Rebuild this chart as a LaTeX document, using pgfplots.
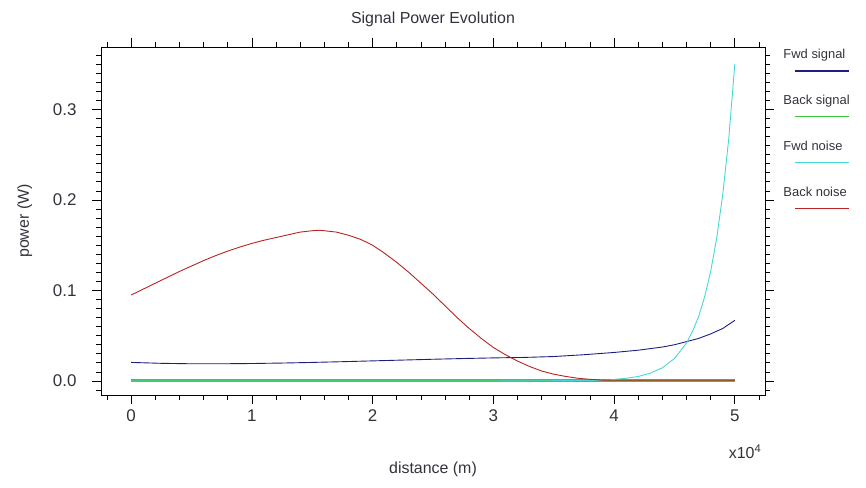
\documentclass[border=0pt]{standalone}
\usepackage{fontspec}
\setmainfont{Liberation Sans}
\usepackage{pgfplots}
\pgfplotsset{compat=1.18}
\definecolor{fwdsig}{RGB}{30,30,130}
\definecolor{backsig}{RGB}{60,200,60}
\definecolor{fwdnoise}{RGB}{70,215,215}
\definecolor{backnoise}{RGB}{185,35,35}
\definecolor{txt}{RGB}{50,50,60}
\begin{document}
\begin{tikzpicture}
\useasboundingbox (-101bp,-93bp) rectangle (765bp,395bp);
\begin{axis}[
  name=ax,
  scale only axis,
  width=664bp, height=348bp,
  xmin=-2500, xmax=52500, ymin=-0.0155, ymax=0.369,
  scaled x ticks=false, scaled y ticks=false,
  axis line style={black, line width=0.8pt},
  tick align=outside,
  major tick length=9bp, minor tick length=5bp,
  every tick/.style={black, line width=0.8pt},
  xtick={0,10000,20000,30000,40000,50000},
  xticklabels={0,1,2,3,4,5},
  minor xtick={-2000,2000,4000,6000,8000,12000,14000,16000,18000,22000,24000,26000,28000,32000,34000,36000,38000,42000,44000,46000,48000,52000},
  ytick={0,0.1,0.2,0.3},
  yticklabels={0.0,0.1,0.2,0.3},
  minor ytick={-0.01,0.01,0.02,0.03,0.04,0.05,0.06,0.07,0.08,0.09,0.11,0.12,0.13,0.14,0.15,0.16,0.17,0.18,0.19,0.21,0.22,0.23,0.24,0.25,0.26,0.27,0.28,0.29,0.31,0.32,0.33,0.34,0.35,0.36},
  tick label style={font=\fontsize{17}{19}\selectfont, text=txt},
  xticklabel style={yshift=-2bp},
  yticklabel style={xshift=-12bp},
  label style={font=\fontsize{16}{18}\selectfont, text=txt},
  xlabel={distance (m)},
  ylabel={power (W)},
  xlabel style={at={(axis description cs:0.5,-0.215)}, anchor=center},
  ylabel style={at={(axis description cs:-0.115,0.5)}, anchor=center},
  title={Signal Power Evolution},
  title style={at={(axis description cs:0.5,1.063)}, anchor=center, yshift=0pt, font=\fontsize{16}{18}\selectfont, text=txt},
  extra description/.code={\node[font=\fontsize{16}{18}\selectfont, text=txt] at (axis description cs:0.97,-0.164) {x10\textsuperscript{4}};},
  legend image code/.code={\draw[#1, overlay, line width=1.5pt] (14bp,-16bp) -- (68bp,-16bp);},
  legend cell align=left,
  legend style={draw=none, fill=none, at={(axis description cs:1.02,1.005)}, anchor=north west,
    font=\fontsize{13}{15}\selectfont, row sep=31bp},
]
\addplot[fwdsig, line width=0.9pt] coordinates {
(0,0.0205) (2500,0.0195) (5000,0.019) (7500,0.019) (10000,0.0193) (12500,0.0198)
(15000,0.0205) (17500,0.0213) (20000,0.0222) (22500,0.0231) (25000,0.024)
(27500,0.0248) (30000,0.0255) (32500,0.026) (35000,0.027) (37500,0.029)
(40000,0.0315) (42000,0.034) (44000,0.0375) (45000,0.040) (46000,0.0435)
(47000,0.047) (48000,0.052) (49000,0.058) (50000,0.067)};
\addlegendentry{\textcolor{txt}{Fwd signal}}
\addplot[backsig, line width=2.2pt] coordinates {
(0,0.0005) (10000,0.0005) (20000,0.0005) (30000,0.0005) (40000,0.0005) (50000,0.0005)};
\addlegendentry{\textcolor{txt}{Back signal}}
\addplot[fwdnoise, line width=0.9pt] coordinates {
(0,0) (10000,0) (20000,0) (30000,0) (38000,0.0005) (39000,0.001) (40000,0.0017)
(41000,0.003) (42000,0.005) (43000,0.0086) (44000,0.0146) (45000,0.0248)
(46000,0.042) (46500,0.055) (47000,0.071) (47500,0.093) (48000,0.121)
(48500,0.158) (49000,0.206) (49500,0.268) (50000,0.35)};
\addlegendentry{\textcolor{txt}{Fwd noise}}
\addplot[backnoise, line width=0.9pt] coordinates {
(0,0.095) (1000,0.1015) (2000,0.108) (3000,0.1145) (4000,0.121) (5000,0.127)
(6000,0.133) (7000,0.1385) (8000,0.1435) (9000,0.148) (10000,0.152)
(11000,0.1555) (12000,0.1585) (13000,0.1615) (14000,0.1645) (15000,0.166)
(15500,0.1665) (16000,0.166) (17000,0.1645) (18000,0.161) (19000,0.1565)
(20000,0.150) (21000,0.141) (22000,0.131) (23000,0.12) (24000,0.108)
(25000,0.096) (26000,0.083) (27000,0.070) (28000,0.058) (29000,0.047)
(30000,0.037) (31000,0.029) (32000,0.022) (33000,0.016) (34000,0.011)
(35000,0.0075) (36000,0.005) (37000,0.003) (38000,0.0018) (39000,0.001)
(40000,0.0008) (50000,0.0008)};
\addlegendentry{\textcolor{txt}{Back noise}}
\end{axis}
\end{tikzpicture}
\end{document}
